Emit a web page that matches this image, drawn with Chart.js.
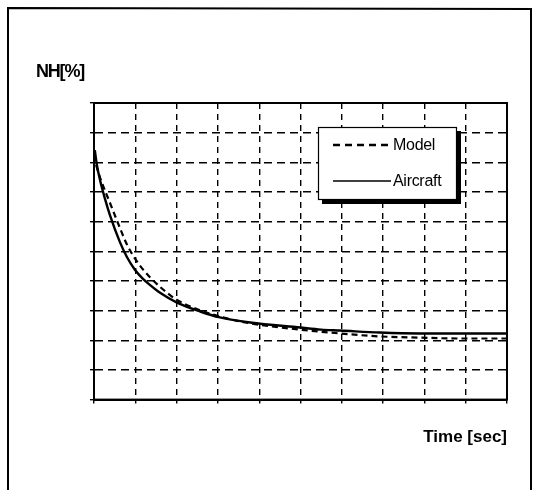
<!DOCTYPE html>
<html>
<head>
<meta charset="utf-8">
<script src="https://cdn.jsdelivr.net/npm/chart.js@4/dist/chart.umd.min.js"></script>
<style>
  html, body { margin: 0; padding: 0; background: #ffffff; }
  #wrap { position: relative; width: 535px; height: 490px; }
</style>
</head>
<body>
<div id="wrap"><canvas id="c" width="535" height="490"></canvas></div>
<script>
// Spool-down of high-pressure shaft speed: measured vs. simulated
const seriesNames = ['Model', 'Aircraft'];
const axisTitles = { y: 'NH[%]', x: 'Time [sec]' };

// Time in grid divisions (0..10)
const modelTime = [0.05, 0.15, 0.39, 0.63, 0.80, 0.99, 1.18, 1.36, 1.60, 2.01, 2.57, 3.05, 3.78, 4.99, 5.96, 6.92, 7.89, 8.86, 10.0];
const modelNH   = [7.91, 7.47, 6.62, 5.78, 5.22, 4.76, 4.40, 4.12, 3.80, 3.36, 3.01, 2.80, 2.57, 2.36, 2.23, 2.13, 2.09, 2.06, 2.06];

const aircraftTime = [0.02, 0.07, 0.15, 0.27, 0.39, 0.63, 0.80, 0.99, 1.18, 1.36, 1.60, 2.01, 2.57, 3.05, 3.78, 4.99, 5.50, 5.96, 6.92, 7.89, 8.86, 10.0];
const aircraftNH   = [8.41, 7.91, 7.38, 6.75, 6.20, 5.30, 4.80, 4.38, 4.08, 3.86, 3.60, 3.27, 2.97, 2.77, 2.60, 2.43, 2.36, 2.33, 2.26, 2.23, 2.23, 2.23];

const toPoints = (xs, ys) => xs.map((x, i) => ({ x, y: ys[i] }));

const FONT = '"Liberation Sans", Arial, sans-serif';

// Solid frame on top/right of the plot plus outer page frame, axis label and legend box
const decorations = {
  id: 'decorations',
  beforeDraw(chart) {
    const ctx = chart.ctx;
    ctx.save();
    ctx.strokeStyle = '#000';
    ctx.lineWidth = 2;
    ctx.beginPath();
    ctx.moveTo(8, 496);
    ctx.lineTo(8, 8);
    ctx.lineTo(531, 9);
    ctx.lineTo(531, 496);
    ctx.stroke();
    ctx.restore();
  },
  afterDraw(chart) {
    const ctx = chart.ctx;
    const a = chart.chartArea;
    ctx.save();
    // plot frame
    ctx.strokeStyle = '#000';
    ctx.lineWidth = 2;
    ctx.strokeRect(a.left, a.top, a.right - a.left, a.bottom - a.top);

    // y axis label
    ctx.fillStyle = '#000';
    ctx.font = 'bold 18px ' + FONT;
    ctx.letterSpacing = '-1.2px';
    ctx.textBaseline = 'alphabetic';
    ctx.textAlign = 'left';
    ctx.fillText(axisTitles.y, a.left - 58, a.top - 26);

    // legend box with drop shadow
    const bx = a.left + 224, by = a.top + 24, bw = 139, bh = 73;
    ctx.fillStyle = '#000';
    ctx.fillRect(bx + 4, by + 4, bw, bh);
    ctx.fillStyle = '#fff';
    ctx.fillRect(bx, by, bw, bh);
    ctx.lineWidth = 1.2;
    ctx.strokeRect(bx + 0.5, by + 0.5, bw - 1, bh - 1);

    const rows = [18, 54];
    chart.data.datasets.forEach((ds, i) => {
      const y = by + rows[i];
      ctx.beginPath();
      ctx.setLineDash(ds.borderDash ? [7, 5] : []);
      ctx.lineWidth = i === 0 ? 2.5 : 1.5;
      ctx.strokeStyle = '#000';
      ctx.moveTo(bx + 15, y);
      ctx.lineTo(bx + 73, y);
      ctx.stroke();
      ctx.setLineDash([]);
      ctx.fillStyle = '#000';
      ctx.font = '16px ' + FONT;
      ctx.letterSpacing = '-0.3px';
      ctx.textBaseline = 'middle';
      ctx.fillText(ds.label, bx + 75, y + 1);
    });
    ctx.restore();
  }
};

new Chart(document.getElementById('c'), {
  type: 'line',
  data: {
    datasets: [
      {
        label: seriesNames[0],
        data: toPoints(modelTime, modelNH),
        borderColor: '#000',
        borderWidth: 2.2,
        borderDash: [6, 4],
        pointRadius: 0,
        cubicInterpolationMode: 'monotone',
        fill: false
      },
      {
        label: seriesNames[1],
        data: toPoints(aircraftTime, aircraftNH),
        borderColor: '#000',
        borderWidth: 2.4,
        pointRadius: 0,
        cubicInterpolationMode: 'monotone',
        fill: false
      }
    ]
  },
  options: {
    responsive: false,
    animation: false,
    layout: { padding: { left: 90, top: 103, right: 28, bottom: 42 } },
    plugins: {
      legend: { display: false },
      tooltip: { enabled: false }
    },
    scales: {
      x: {
        type: 'linear',
        min: 0,
        max: 10,
        ticks: { display: false, stepSize: 1 },
        grid: {
          color: '#000',
          lineWidth: 1.4,
          drawTicks: true,
          tickLength: 4,
          tickColor: '#000',
          tickWidth: 1.4
        },
        border: { display: true, color: '#000', width: 2, dash: [6, 5] },
        title: {
          display: true,
          text: axisTitles.x,
          align: 'end',
          color: '#000',
          font: { family: FONT, size: 17, weight: 'bold' },
          padding: { top: 24, bottom: 0 }
        }
      },
      y: {
        type: 'linear',
        min: 0,
        max: 10,
        ticks: { display: false, stepSize: 1 },
        grid: {
          color: '#000',
          lineWidth: 1.4,
          drawTicks: true,
          tickLength: 4,
          tickColor: '#000',
          tickWidth: 1.4
        },
        border: { display: true, color: '#000', width: 2, dash: [8, 5] }
      }
    }
  },
  plugins: [decorations]
});
</script>
</body>
</html>
